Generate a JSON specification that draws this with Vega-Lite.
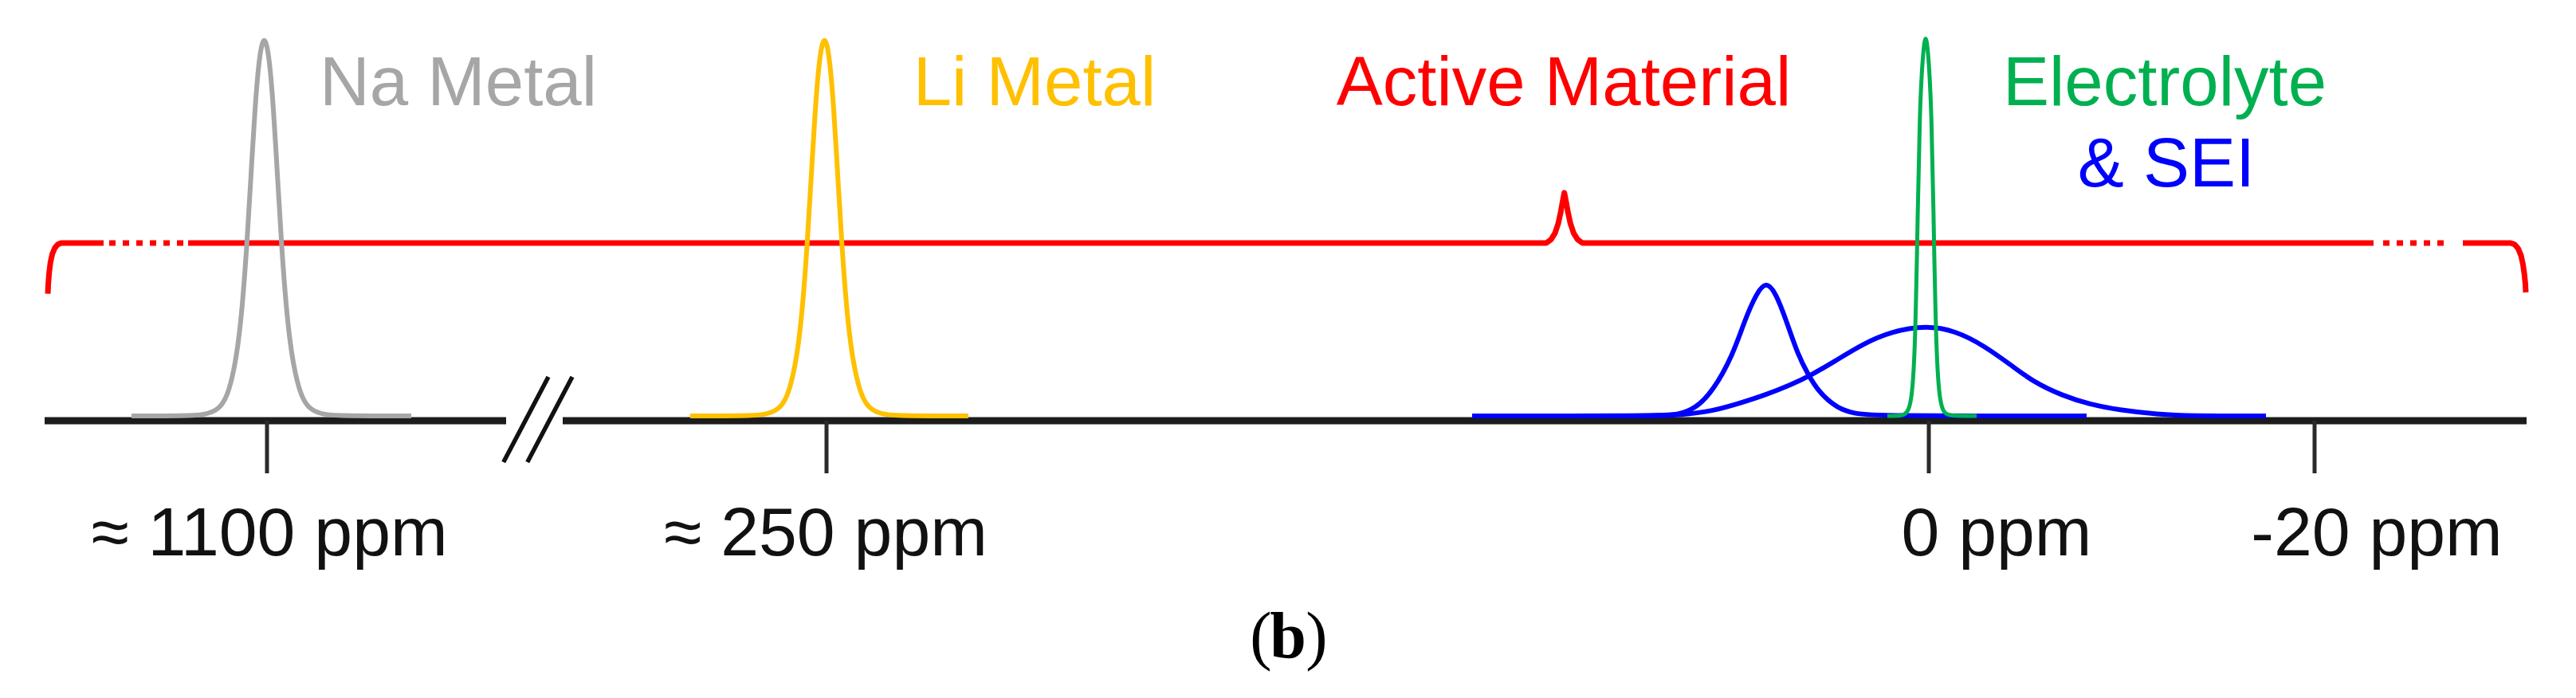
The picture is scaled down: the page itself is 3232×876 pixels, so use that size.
{
  "$schema": "https://vega.github.io/schema/vega-lite/v6.json",
  "width": 3232,
  "height": 876,
  "autosize": {"type": "fit", "contains": "padding"},
  "padding": 0,
  "background": "white",
  "config": {"view": {"stroke": null}},
  "datasets": {
    "axisline": [
      {"pos": 56, "pos2": 635, "intensity": -1.263},
      {"pos": 706, "pos2": 3170, "intensity": -1.263}
    ],
    "ticks": [
      {"pos": 335, "intensity": -1.263, "intensity2": -15.16},
      {"pos": 1037, "intensity": -1.263, "intensity2": -15.16},
      {"pos": 2420, "intensity": -1.263, "intensity2": -15.16},
      {"pos": 2904, "intensity": -1.263, "intensity2": -15.16}
    ],
    "slashes": [
      {"pos": 631.7, "pos2": 688, "intensity": -12.21, "intensity2": 10.32},
      {"pos": 661.7, "pos2": 718, "intensity": -12.21, "intensity2": 10.32}
    ],
    "bracket": [
      {"seg": "A", "pos": 60, "intensity": 32.28},
      {"seg": "A", "pos": 60.6, "intensity": 35.0},
      {"seg": "A", "pos": 61.7, "intensity": 37.9},
      {"seg": "A", "pos": 63.3, "intensity": 40.6},
      {"seg": "A", "pos": 65.6, "intensity": 42.8},
      {"seg": "A", "pos": 68.8, "intensity": 44.4},
      {"seg": "A", "pos": 72.5, "intensity": 45.3},
      {"seg": "A", "pos": 76.7, "intensity": 45.68},
      {"seg": "A", "pos": 130, "intensity": 45.68},
      {"seg": "B", "pos": 137, "intensity": 45.68},
      {"seg": "B", "pos": 232, "intensity": 45.68},
      {"seg": "C", "pos": 236, "intensity": 45.68},
      {"seg": "C", "pos": 1940, "intensity": 45.68},
      {"seg": "C", "pos": 1946, "intensity": 46.6},
      {"seg": "C", "pos": 1951, "intensity": 48.3},
      {"seg": "C", "pos": 1955, "intensity": 50.8},
      {"seg": "C", "pos": 1958.2, "intensity": 53.9},
      {"seg": "C", "pos": 1960.7, "intensity": 56.8},
      {"seg": "C", "pos": 1962.7, "intensity": 58.95},
      {"seg": "C", "pos": 1964.7, "intensity": 56.8},
      {"seg": "C", "pos": 1967.2, "intensity": 53.9},
      {"seg": "C", "pos": 1970.4, "intensity": 50.8},
      {"seg": "C", "pos": 1974.4, "intensity": 48.3},
      {"seg": "C", "pos": 1979.4, "intensity": 46.6},
      {"seg": "C", "pos": 1985.4, "intensity": 45.68},
      {"seg": "C", "pos": 2978, "intensity": 45.68},
      {"seg": "D", "pos": 2990, "intensity": 45.68},
      {"seg": "D", "pos": 3070, "intensity": 45.68},
      {"seg": "E", "pos": 3090, "intensity": 45.68},
      {"seg": "E", "pos": 3150, "intensity": 45.68},
      {"seg": "E", "pos": 3155, "intensity": 45.3},
      {"seg": "E", "pos": 3159.5, "intensity": 44.2},
      {"seg": "E", "pos": 3163, "intensity": 42.4},
      {"seg": "E", "pos": 3165.5, "intensity": 40.0},
      {"seg": "E", "pos": 3167.3, "intensity": 37.3},
      {"seg": "E", "pos": 3168.5, "intensity": 34.8},
      {"seg": "E", "pos": 3169, "intensity": 32.63}
    ],
    "peaks": [
      {"series": "Na", "pos": 165, "intensity": 0},
      {"series": "Na", "pos": 246.5, "intensity": 0},
      {"series": "Na", "pos": 261.5, "intensity": 0.6},
      {"series": "Na", "pos": 276, "intensity": 2.0},
      {"series": "Na", "pos": 285.75, "intensity": 5.5},
      {"series": "Na", "pos": 293.5, "intensity": 12.0},
      {"series": "Na", "pos": 298.5, "intensity": 18.5},
      {"series": "Na", "pos": 303.75, "intensity": 28.0},
      {"series": "Na", "pos": 309.75, "intensity": 45.0},
      {"series": "Na", "pos": 314.5, "intensity": 62.0},
      {"series": "Na", "pos": 320, "intensity": 82.0},
      {"series": "Na", "pos": 325.5, "intensity": 95.6},
      {"series": "Na", "pos": 331.5, "intensity": 101},
      {"series": "Na", "pos": 337.5, "intensity": 95.6},
      {"series": "Na", "pos": 343, "intensity": 82.0},
      {"series": "Na", "pos": 348.5, "intensity": 62.0},
      {"series": "Na", "pos": 353.25, "intensity": 45.0},
      {"series": "Na", "pos": 359.25, "intensity": 28.0},
      {"series": "Na", "pos": 364.5, "intensity": 18.5},
      {"series": "Na", "pos": 369.5, "intensity": 12.0},
      {"series": "Na", "pos": 377.25, "intensity": 5.5},
      {"series": "Na", "pos": 387, "intensity": 2.0},
      {"series": "Na", "pos": 401.5, "intensity": 0.6},
      {"series": "Na", "pos": 416.5, "intensity": 0},
      {"series": "Na", "pos": 516, "intensity": 0},
      {"series": "Li", "pos": 866, "intensity": 0},
      {"series": "Li", "pos": 949.5, "intensity": 0},
      {"series": "Li", "pos": 964.5, "intensity": 0.6},
      {"series": "Li", "pos": 979, "intensity": 2.0},
      {"series": "Li", "pos": 988.75, "intensity": 5.5},
      {"series": "Li", "pos": 996.5, "intensity": 12.0},
      {"series": "Li", "pos": 1001.5, "intensity": 18.5},
      {"series": "Li", "pos": 1006.75, "intensity": 28.0},
      {"series": "Li", "pos": 1012.75, "intensity": 45.0},
      {"series": "Li", "pos": 1017.5, "intensity": 62.0},
      {"series": "Li", "pos": 1023, "intensity": 82.0},
      {"series": "Li", "pos": 1028.5, "intensity": 95.6},
      {"series": "Li", "pos": 1034.5, "intensity": 101},
      {"series": "Li", "pos": 1040.5, "intensity": 95.6},
      {"series": "Li", "pos": 1046, "intensity": 82.0},
      {"series": "Li", "pos": 1051.5, "intensity": 62.0},
      {"series": "Li", "pos": 1056.25, "intensity": 45.0},
      {"series": "Li", "pos": 1062.25, "intensity": 28.0},
      {"series": "Li", "pos": 1067.5, "intensity": 18.5},
      {"series": "Li", "pos": 1072.5, "intensity": 12.0},
      {"series": "Li", "pos": 1080.25, "intensity": 5.5},
      {"series": "Li", "pos": 1090, "intensity": 2.0},
      {"series": "Li", "pos": 1104.5, "intensity": 0.6},
      {"series": "Li", "pos": 1119.5, "intensity": 0},
      {"series": "Li", "pos": 1215, "intensity": 0},
      {"series": "SEI-1", "pos": 1847, "intensity": 0},
      {"series": "SEI-1", "pos": 2085, "intensity": 0},
      {"series": "SEI-1", "pos": 2105, "intensity": 0.3},
      {"series": "SEI-1", "pos": 2127, "intensity": 1.9},
      {"series": "SEI-1", "pos": 2149, "intensity": 6.5},
      {"series": "SEI-1", "pos": 2174, "intensity": 16},
      {"series": "SEI-1", "pos": 2189, "intensity": 25.3},
      {"series": "SEI-1", "pos": 2204, "intensity": 32.5},
      {"series": "SEI-1", "pos": 2216, "intensity": 35.6},
      {"series": "SEI-1", "pos": 2228, "intensity": 32.5},
      {"series": "SEI-1", "pos": 2241, "intensity": 25.3},
      {"series": "SEI-1", "pos": 2256, "intensity": 16},
      {"series": "SEI-1", "pos": 2268, "intensity": 11.2},
      {"series": "SEI-1", "pos": 2281, "intensity": 6.5},
      {"series": "SEI-1", "pos": 2305.5, "intensity": 1.9},
      {"series": "SEI-1", "pos": 2328, "intensity": 0.6},
      {"series": "SEI-1", "pos": 2350, "intensity": 0},
      {"series": "SEI-1", "pos": 2618, "intensity": 0},
      {"series": "SEI-2", "pos": 1983, "intensity": 0},
      {"series": "SEI-2", "pos": 2080, "intensity": 0},
      {"series": "SEI-2", "pos": 2110, "intensity": 0.3},
      {"series": "SEI-2", "pos": 2149, "intensity": 1.3},
      {"series": "SEI-2", "pos": 2180.5, "intensity": 3.2},
      {"series": "SEI-2", "pos": 2216, "intensity": 5.6},
      {"series": "SEI-2", "pos": 2247.5, "intensity": 8.3},
      {"series": "SEI-2", "pos": 2270, "intensity": 10.5},
      {"series": "SEI-2", "pos": 2301, "intensity": 14.3},
      {"series": "SEI-2", "pos": 2337, "intensity": 19.0},
      {"series": "SEI-2", "pos": 2372.5, "intensity": 22.3},
      {"series": "SEI-2", "pos": 2417, "intensity": 23.9},
      {"series": "SEI-2", "pos": 2453, "intensity": 22.5},
      {"series": "SEI-2", "pos": 2488.5, "intensity": 18.7},
      {"series": "SEI-2", "pos": 2524, "intensity": 13.3},
      {"series": "SEI-2", "pos": 2551, "intensity": 9.0},
      {"series": "SEI-2", "pos": 2587, "intensity": 5.4},
      {"series": "SEI-2", "pos": 2622.5, "intensity": 3.0},
      {"series": "SEI-2", "pos": 2658, "intensity": 1.6},
      {"series": "SEI-2", "pos": 2707, "intensity": 0.4},
      {"series": "SEI-2", "pos": 2750, "intensity": 0},
      {"series": "SEI-2", "pos": 2843, "intensity": 0},
      {"series": "Electrolyte", "pos": 2368, "intensity": 0},
      {"series": "Electrolyte", "pos": 2386, "intensity": 0},
      {"series": "Electrolyte", "pos": 2392, "intensity": 0.6},
      {"series": "Electrolyte", "pos": 2398, "intensity": 3.0},
      {"series": "Electrolyte", "pos": 2402.5, "intensity": 15.2},
      {"series": "Electrolyte", "pos": 2405.5, "intensity": 45.7},
      {"series": "Electrolyte", "pos": 2408.5, "intensity": 81.7},
      {"series": "Electrolyte", "pos": 2413, "intensity": 97},
      {"series": "Electrolyte", "pos": 2416, "intensity": 101},
      {"series": "Electrolyte", "pos": 2419, "intensity": 97},
      {"series": "Electrolyte", "pos": 2423.5, "intensity": 81.7},
      {"series": "Electrolyte", "pos": 2426.5, "intensity": 45.7},
      {"series": "Electrolyte", "pos": 2429.5, "intensity": 15.2},
      {"series": "Electrolyte", "pos": 2434, "intensity": 3.0},
      {"series": "Electrolyte", "pos": 2440, "intensity": 0.6},
      {"series": "Electrolyte", "pos": 2446, "intensity": 0},
      {"series": "Electrolyte", "pos": 2480, "intensity": 0}
    ],
    "names": [
      {"series": "Na", "label": "Na Metal", "pos": 575, "intensity": 82.1},
      {"series": "Li", "label": "Li Metal", "pos": 1298, "intensity": 82.1},
      {"series": "Active", "label": "Active Material", "pos": 1962, "intensity": 82.1},
      {"series": "Electrolyte", "label": "Electrolyte", "pos": 2716, "intensity": 82.1},
      {"series": "SEI", "label": "& SEI", "pos": 2718, "intensity": 60.63}
    ],
    "shifts": [
      {"label": "≈ 1100 ppm", "pos": 338, "intensity": -36.84},
      {"label": "≈ 250 ppm", "pos": 1036, "intensity": -36.84},
      {"label": "0 ppm", "pos": 2505, "intensity": -36.84},
      {"label": "-20 ppm", "pos": 2982, "intensity": -36.84}
    ],
    "caption_paren": [
      {"label": "(", "pos": 1582, "intensity": -63.79},
      {"label": ")", "pos": 1652, "intensity": -63.79}
    ],
    "caption_letter": [
      {"label": "b", "pos": 1616, "intensity": -63.79}
    ]
  },
  "layer": [
    {
      "data": {"name": "bracket"},
      "transform": [{"filter": "datum.seg === 'A' || datum.seg === 'C' || datum.seg === 'E'"}],
      "mark": {"type": "line", "color": "#FF0000", "strokeWidth": 7, "interpolate": "linear", "strokeJoin": "round"},
      "encoding": {
        "x": {"field": "pos", "type": "quantitative", "scale": {"domain": [0, 3232], "nice": false, "zero": false}, "axis": null},
        "y": {"field": "intensity", "type": "quantitative", "scale": {"domain": [-74.526, 109.895], "nice": false, "zero": false}, "axis": null},
        "detail": {"field": "seg"}
      }
    },
    {
      "data": {"name": "bracket"},
      "transform": [{"filter": "datum.seg === 'B' || datum.seg === 'D'"}],
      "mark": {"type": "line", "color": "#FF0000", "strokeWidth": 7, "strokeDash": [8, 9]},
      "encoding": {
        "x": {"field": "pos", "type": "quantitative", "scale": {"domain": [0, 3232], "nice": false, "zero": false}, "axis": null},
        "y": {"field": "intensity", "type": "quantitative", "scale": {"domain": [-74.526, 109.895], "nice": false, "zero": false}, "axis": null},
        "detail": {"field": "seg"}
      }
    },
    {
      "data": {"name": "axisline"},
      "mark": {"type": "rule", "color": "#1c1c1c", "strokeWidth": 9},
      "encoding": {
        "x": {"field": "pos", "type": "quantitative", "scale": {"domain": [0, 3232], "nice": false, "zero": false}, "axis": null},
        "x2": {"field": "pos2"},
        "y": {"field": "intensity", "type": "quantitative", "scale": {"domain": [-74.526, 109.895], "nice": false, "zero": false}, "axis": null}
      }
    },
    {
      "data": {"name": "ticks"},
      "mark": {"type": "rule", "color": "#2a2a2a", "strokeWidth": 5},
      "encoding": {
        "x": {"field": "pos", "type": "quantitative", "scale": {"domain": [0, 3232], "nice": false, "zero": false}, "axis": null},
        "y": {"field": "intensity", "type": "quantitative", "scale": {"domain": [-74.526, 109.895], "nice": false, "zero": false}, "axis": null},
        "y2": {"field": "intensity2"}
      }
    },
    {
      "data": {"name": "slashes"},
      "mark": {"type": "rule", "color": "#111111", "strokeWidth": 5.5},
      "encoding": {
        "x": {"field": "pos", "type": "quantitative", "scale": {"domain": [0, 3232], "nice": false, "zero": false}, "axis": null},
        "x2": {"field": "pos2"},
        "y": {"field": "intensity", "type": "quantitative", "scale": {"domain": [-74.526, 109.895], "nice": false, "zero": false}, "axis": null},
        "y2": {"field": "intensity2"}
      }
    },
    {
      "data": {"name": "peaks"},
      "transform": [{"filter": "datum.series !== 'Electrolyte'"}],
      "mark": {"type": "line", "strokeWidth": 6, "interpolate": "basis"},
      "encoding": {
        "x": {"field": "pos", "type": "quantitative", "scale": {"domain": [0, 3232], "nice": false, "zero": false}, "axis": null},
        "y": {"field": "intensity", "type": "quantitative", "scale": {"domain": [-74.526, 109.895], "nice": false, "zero": false}, "axis": null},
        "color": {"field": "series", "type": "nominal", "legend": null, "scale": {"domain": ["Na", "Li", "Active", "Electrolyte", "SEI", "SEI-1", "SEI-2"], "range": ["#A6A6A6", "#FFC000", "#FF0000", "#00B050", "#0000FF", "#0000FF", "#0000FF"]}},
        "detail": {"field": "series"}
      }
    },
    {
      "data": {"name": "peaks"},
      "transform": [{"filter": "datum.series === 'Electrolyte'"}],
      "mark": {"type": "line", "strokeWidth": 5, "interpolate": "basis"},
      "encoding": {
        "x": {"field": "pos", "type": "quantitative", "scale": {"domain": [0, 3232], "nice": false, "zero": false}, "axis": null},
        "y": {"field": "intensity", "type": "quantitative", "scale": {"domain": [-74.526, 109.895], "nice": false, "zero": false}, "axis": null},
        "color": {"field": "series", "type": "nominal", "legend": null, "scale": {"domain": ["Na", "Li", "Active", "Electrolyte", "SEI", "SEI-1", "SEI-2"], "range": ["#A6A6A6", "#FFC000", "#FF0000", "#00B050", "#0000FF", "#0000FF", "#0000FF"]}}
      }
    },
    {
      "data": {"name": "names"},
      "mark": {"type": "text", "font": "Liberation Sans", "fontSize": 87, "align": "center", "baseline": "alphabetic"},
      "encoding": {
        "x": {"field": "pos", "type": "quantitative", "scale": {"domain": [0, 3232], "nice": false, "zero": false}, "axis": null},
        "y": {"field": "intensity", "type": "quantitative", "scale": {"domain": [-74.526, 109.895], "nice": false, "zero": false}, "axis": null},
        "text": {"field": "label"},
        "color": {"field": "series", "type": "nominal", "legend": null, "scale": {"domain": ["Na", "Li", "Active", "Electrolyte", "SEI", "SEI-1", "SEI-2"], "range": ["#A6A6A6", "#FFC000", "#FF0000", "#00B050", "#0000FF", "#0000FF", "#0000FF"]}}
      }
    },
    {
      "data": {"name": "shifts"},
      "mark": {"type": "text", "font": "Liberation Sans", "fontSize": 86, "align": "center", "baseline": "alphabetic", "color": "#111111"},
      "encoding": {
        "x": {"field": "pos", "type": "quantitative", "scale": {"domain": [0, 3232], "nice": false, "zero": false}, "axis": null},
        "y": {"field": "intensity", "type": "quantitative", "scale": {"domain": [-74.526, 109.895], "nice": false, "zero": false}, "axis": null},
        "text": {"field": "label"}
      }
    },
    {
      "data": {"name": "caption_paren"},
      "mark": {"type": "text", "font": "Liberation Serif", "fontSize": 82, "align": "center", "baseline": "alphabetic", "color": "#000000"},
      "encoding": {
        "x": {"field": "pos", "type": "quantitative", "scale": {"domain": [0, 3232], "nice": false, "zero": false}, "axis": null},
        "y": {"field": "intensity", "type": "quantitative", "scale": {"domain": [-74.526, 109.895], "nice": false, "zero": false}, "axis": null},
        "text": {"field": "label"}
      }
    },
    {
      "data": {"name": "caption_letter"},
      "mark": {"type": "text", "font": "Liberation Serif", "fontSize": 82, "fontWeight": "bold", "align": "center", "baseline": "alphabetic", "color": "#000000"},
      "encoding": {
        "x": {"field": "pos", "type": "quantitative", "scale": {"domain": [0, 3232], "nice": false, "zero": false}, "axis": null},
        "y": {"field": "intensity", "type": "quantitative", "scale": {"domain": [-74.526, 109.895], "nice": false, "zero": false}, "axis": null},
        "text": {"field": "label"}
      }
    }
  ]
}
